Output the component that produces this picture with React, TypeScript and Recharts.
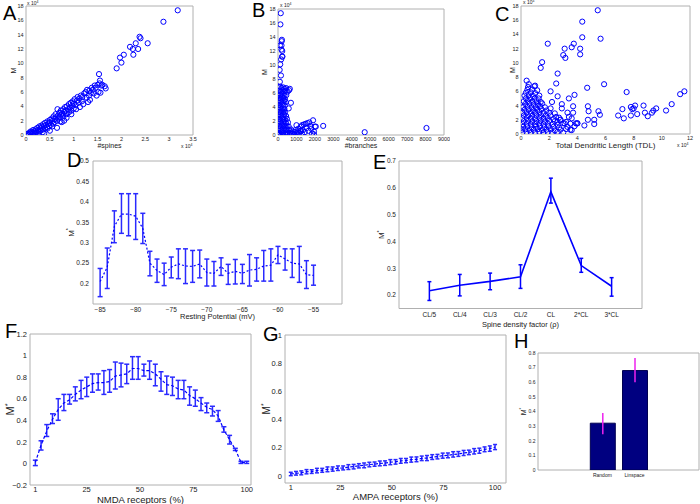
import React from 'react'
import {
  ScatterChart,
  Scatter,
  LineChart,
  Line,
  BarChart,
  Bar,
  XAxis,
  YAxis,
  ErrorBar,
  ReferenceArea,
} from 'recharts'

// A: M vs #spines (both x 10^4)
const ptsA: [number, number][] = [
  [0.02, 0.05], [0.04, 0.2], [0.06, 0.1], [0.08, 0.35], [0.1, 0.2], [0.1, 0.5], [0.12, 0.4], [0.14, 0.25],
  [0.15, 0.7], [0.17, 0.5], [0.18, 0.3], [0.2, 0.8], [0.2, 0.55], [0.22, 0.4], [0.24, 1.0], [0.25, 0.7],
  [0.27, 0.5], [0.28, 1.2], [0.3, 0.9], [0.3, 0.6], [0.32, 1.3], [0.33, 1.05], [0.35, 0.75], [0.36, 1.5],
  [0.38, 1.2], [0.4, 0.9], [0.4, 1.7], [0.42, 1.4], [0.44, 1.1], [0.45, 1.9], [0.47, 1.6], [0.48, 1.25],
  [0.5, 2.1], [0.5, 1.75], [0.52, 1.4], [0.54, 2.3], [0.55, 1.95], [0.57, 1.6], [0.58, 2.6], [0.6, 2.2],
  [0.6, 1.8], [0.62, 2.9], [0.63, 2.45], [0.65, 2.0], [0.66, 3.6], [0.67, 2.7], [0.68, 2.3], [0.7, 3.1],
  [0.71, 2.55], [0.73, 3.4], [0.74, 2.85], [0.75, 1.8], [0.76, 3.0], [0.78, 3.6], [0.79, 2.7], [0.8, 3.2],
  [0.82, 3.9], [0.83, 3.4], [0.85, 2.9], [0.86, 4.0], [0.88, 3.6], [0.9, 3.2], [0.9, 4.3], [0.92, 3.8],
  [0.94, 4.5], [0.95, 3.4], [0.97, 4.1], [0.98, 4.7], [1.0, 3.7], [1.0, 4.4], [1.02, 5.0], [1.04, 4.2],
  [1.05, 3.6], [1.07, 4.8], [1.08, 5.3], [1.1, 4.5], [1.12, 5.1], [1.13, 3.9], [1.15, 5.5], [1.17, 4.7],
  [1.18, 5.3], [1.2, 4.3], [1.22, 5.8], [0.65, 1.0], [0.8, 2.0], [0.72, 1.9], [0.55, 1.2], [0.45, 0.9],
  [0.35, 0.4], [0.25, 0.2], [0.85, 2.4], [0.95, 2.9], [0.38, 0.2], [0.5, 0.6],
  [1.25, 6.0], [1.28, 6.3], [1.3, 4.6], [1.32, 5.5], [1.33, 6.2], [1.36, 5.9], [1.38, 6.6], [1.4, 6.3],
  [1.42, 5.8], [1.44, 6.9], [1.46, 6.6], [1.48, 5.5], [1.5, 7.0], [1.52, 6.0], [1.53, 8.5], [1.54, 7.2],
  [1.55, 7.6], [1.56, 5.9], [1.58, 6.9], [1.6, 7.0], [1.65, 6.8], [1.67, 6.5], [1.27, 5.2], [1.34, 4.9],
  [1.9, 9.3], [1.97, 10.8], [2.0, 10.1], [2.05, 11.2], [2.18, 12.3], [2.24, 12.0], [2.25, 11.2], [2.3, 12.8],
  [2.35, 12.0], [2.38, 13.7], [2.4, 13.5], [2.55, 12.8], [2.88, 15.8], [3.18, 17.4],
]

// B: M vs #branches
const ptsB: [number, number][] = [
  [150, 17.4], [130, 15.8], [210, 13.6], [200, 13.4], [190, 12.8], [110, 12.8], [190, 12.2], [230, 12.0],
  [240, 11.2], [220, 11.2], [170, 10.8], [120, 10.1], [90, 9.3], [160, 8.5], [100, 7.6],
  [40, 6.8], [120, 6.9], [200, 6.7], [280, 6.8], [360, 6.6], [440, 6.7], [640, 6.6], [600, 6.4],
  [80, 6.3], [160, 6.2], [240, 6.4], [320, 6.2], [400, 6.3], [520, 6.2],
  [30, 5.8], [110, 5.7], [190, 5.9], [270, 5.8], [350, 5.6], [450, 5.7],
  [60, 5.3], [140, 5.2], [220, 5.4], [300, 5.3], [380, 5.1],
  [20, 4.8], [100, 4.9], [180, 4.7], [260, 4.8], [340, 4.9], [420, 4.7], [700, 4.6],
  [50, 4.3], [130, 4.2], [210, 4.4], [290, 4.3], [370, 4.2],
  [30, 3.8], [110, 3.9], [190, 3.7], [270, 3.8], [350, 3.7], [580, 3.8],
  [60, 3.3], [140, 3.2], [220, 3.4], [300, 3.3], [380, 3.2],
  [20, 2.8], [100, 2.9], [180, 2.7], [260, 2.8], [340, 2.9], [440, 2.7],
  [50, 2.3], [130, 2.2], [210, 2.4], [290, 2.3], [370, 2.2], [480, 2.3],
  [30, 1.8], [110, 1.9], [190, 1.7], [270, 1.8], [350, 1.9], [430, 1.7], [540, 1.8],
  [60, 1.3], [140, 1.2], [220, 1.4], [300, 1.3], [380, 1.2], [460, 1.3], [580, 1.2],
  [20, 0.8], [100, 0.9], [180, 0.7], [260, 0.8], [340, 0.9], [420, 0.7], [500, 0.8], [620, 0.7],
  [50, 0.3], [130, 0.2], [210, 0.4], [290, 0.3], [370, 0.2], [450, 0.35], [530, 0.25], [650, 0.3],
  [20, 0.05], [100, 0.1], [200, 0.05], [300, 0.08], [400, 0.05], [500, 0.1],
  [700, 0.8], [750, 0.2], [800, 0.5], [850, 0.1], [900, 0.4], [950, 0.7], [1000, 1.4], [1000, 0.2],
  [1050, 0.5], [1100, 0.9], [1150, 0.3], [1200, 0.6], [1250, 1.2], [1300, 1.4], [1300, 0.2], [1350, 0.7],
  [1400, 1.5], [1450, 0.4], [1500, 1.6], [1550, 1.0], [1600, 1.7], [1650, 0.6], [1700, 1.8], [1750, 1.3],
  [1800, 0.9], [1850, 0.2], [1900, 2.1], [1950, 0.5], [2000, 1.2], [2050, 1.2], [1950, 0.1], [2450, 1.3],
  [4700, 0.4], [8050, 1.0], [1100, 0.1], [900, 0.05], [1250, 0.6],
]

// C: M vs total dendritic length (x 10^4)
const ptsC: [number, number][] = [
  [0.1, 0.2], [0.4, 0.25], [0.7, 0.15], [1.0, 0.2], [1.3, 0.3], [1.6, 0.15], [1.9, 0.25], [2.2, 0.2], [2.6, 0.3], [3.0, 0.2],
  [0.05, 0.6], [0.3, 0.65], [0.6, 0.55], [0.9, 0.6], [1.2, 0.7], [1.5, 0.55], [1.8, 0.6], [2.1, 0.65], [2.4, 0.5], [2.8, 0.6], [3.2, 0.7], [3.6, 0.55],
  [0.15, 1.0], [0.45, 1.05], [0.75, 0.95], [1.05, 1.0], [1.35, 1.1], [1.65, 0.95], [1.95, 1.05], [2.3, 1.0], [2.7, 0.9], [3.3, 1.0], [3.8, 1.1],
  [0.1, 1.4], [0.4, 1.45], [0.7, 1.35], [1.0, 1.4], [1.3, 1.5], [1.6, 1.35], [1.9, 1.45], [2.25, 1.4], [2.6, 1.3], [3.0, 1.5], [3.5, 1.45], [4.0, 1.5],
  [0.2, 1.8], [0.5, 1.85], [0.8, 1.75], [1.1, 1.8], [1.4, 1.9], [1.7, 1.75], [2.0, 1.85], [2.4, 1.8], [2.8, 2.0], [3.2, 1.7],
  [0.1, 2.2], [0.4, 2.25], [0.7, 2.15], [1.0, 2.2], [1.3, 2.3], [1.6, 2.15], [1.9, 2.25], [2.3, 2.1], [2.7, 2.3],
  [0.2, 2.6], [0.5, 2.65], [0.8, 2.55], [1.1, 2.6], [1.4, 2.7], [1.75, 2.55], [2.1, 2.6], [2.5, 2.4],
  [0.1, 3.0], [0.4, 3.05], [0.7, 2.95], [1.0, 3.0], [1.3, 3.1], [1.6, 2.95], [2.0, 3.0], [2.4, 2.9],
  [0.25, 3.4], [0.55, 3.45], [0.85, 3.35], [1.15, 3.4], [1.45, 3.5], [1.8, 3.3],
  [0.15, 3.8], [0.45, 3.85], [0.75, 3.75], [1.05, 3.8], [1.35, 3.9], [1.7, 3.75], [2.1, 3.6],
  [0.3, 4.2], [0.6, 4.25], [0.9, 4.15], [1.2, 4.2], [1.5, 4.3],
  [0.2, 4.6], [0.5, 4.65], [0.8, 4.55], [1.1, 4.6], [1.4, 4.5],
  [0.35, 5.0], [0.65, 5.05], [0.95, 4.95], [1.25, 5.0],
  [0.25, 5.4], [0.55, 5.45], [0.85, 5.35], [1.3, 5.4],
  [0.35, 5.8], [0.7, 5.85], [1.0, 5.75], [0.45, 6.2], [0.8, 6.25], [1.15, 6.15],
  [0.5, 6.6], [0.95, 6.7], [0.55, 7.0], [0.4, 7.5],
  [5.45, 17.4], [4.35, 15.8], [4.35, 13.6], [5.65, 13.4], [1.9, 12.7], [3.75, 12.7], [3.1, 12.0], [4.2, 12.0],
  [3.6, 12.2], [3.0, 11.1], [4.2, 11.2], [3.15, 10.7], [1.5, 10.1], [1.4, 9.3], [2.6, 8.5], [2.5, 7.1],
  [5.9, 7.0], [4.7, 6.5], [2.1, 6.0], [1.0, 6.8], [3.4, 5.0], [3.8, 5.5], [2.6, 5.3], [7.5, 5.9],
  [11.6, 6.0], [11.3, 5.6], [10.7, 4.2], [8.7, 4.0], [9.6, 3.6], [9.4, 3.3], [10.3, 3.3], [9.0, 2.5],
  [9.3, 3.0], [8.1, 4.0], [7.9, 3.5], [8.0, 3.6], [7.8, 3.8], [7.2, 3.5], [8.8, 3.0], [8.25, 2.8],
  [7.8, 2.6], [6.9, 2.6], [7.3, 2.2], [5.5, 3.2], [5.6, 2.7], [5.2, 2.0], [5.2, 1.4], [4.5, 1.2],
  [4.8, 3.2], [4.75, 3.9], [4.75, 2.0], [3.7, 3.9], [3.3, 3.0], [3.7, 3.0], [3.4, 2.4], [3.1, 1.5],
  [4.0, 1.5], [3.9, 1.5], [2.8, 2.0], [2.2, 4.5], [2.9, 3.6], [3.6, 2.2], [2.6, 1.7], [3.5, 0.6], [2.9, 4.2],
]

// D: resting potential sweep
const restV = [-85, -84, -83, -82, -81, -80, -79, -78, -77, -76, -75, -74, -73, -72, -71, -70,
  -69, -68, -67, -66, -65, -64, -63, -62, -61, -60, -59, -58, -57, -56, -55]
const restMean = [0.205, 0.24, 0.34, 0.37, 0.37, 0.365, 0.335, 0.25, 0.232, 0.222, 0.24, 0.248, 0.243, 0.242, 0.248, 0.227,
  0.225, 0.242, 0.225, 0.23, 0.225, 0.233, 0.235, 0.243, 0.245, 0.27, 0.26, 0.25, 0.248, 0.222, 0.22]
const restLow = [0.168, 0.188, 0.3, 0.323, 0.317, 0.308, 0.298, 0.219, 0.203, 0.195, 0.214, 0.212, 0.2, 0.203, 0.214, 0.194,
  0.194, 0.22, 0.198, 0.199, 0.2, 0.194, 0.206, 0.206, 0.206, 0.249, 0.233, 0.215, 0.203, 0.188, 0.196]
const restHigh = [0.237, 0.287, 0.378, 0.42, 0.42, 0.42, 0.372, 0.279, 0.26, 0.25, 0.265, 0.285, 0.285, 0.281, 0.282, 0.26,
  0.254, 0.263, 0.247, 0.259, 0.247, 0.271, 0.263, 0.281, 0.285, 0.291, 0.285, 0.285, 0.291, 0.256, 0.245]

// E: spine density factor
const densCats = ['CL/5', 'CL/4', 'CL/3', 'CL/2', 'CL', '2*CL', '3*CL']
const densMean = [0.216, 0.237, 0.251, 0.268, 0.585, 0.31, 0.233]
const densLow = [0.18, 0.197, 0.22, 0.225, 0.543, 0.285, 0.196]
const densHigh = [0.25, 0.277, 0.282, 0.313, 0.636, 0.337, 0.265]

// F: NMDA receptors (%)
const nmdaPct = [1, 3.68, 6.35, 9.03, 11.7, 14.38, 17.05, 19.73, 22.41, 25.08, 27.76, 30.43, 33.11, 35.78, 38.46, 41.14,
  43.81, 46.49, 49.16, 51.84, 54.51, 57.19, 59.86, 62.54, 65.22, 67.89, 70.57, 73.24, 75.92, 78.59, 81.27, 83.95,
  86.62, 89.3, 91.97, 94.65, 97.32, 100]
const nmdaMean = [0.01, 0.17, 0.3, 0.41, 0.5, 0.56, 0.59, 0.64, 0.68, 0.71, 0.74, 0.75, 0.75, 0.76, 0.81, 0.82,
  0.83, 0.88, 0.88, 0.86, 0.86, 0.83, 0.78, 0.73, 0.72, 0.69, 0.68, 0.63, 0.6, 0.56, 0.52, 0.5,
  0.44, 0.31, 0.22, 0.13, 0.01, 0.01]
const nmdaLow = [-0.02, 0.124, 0.25, 0.37, 0.4, 0.49, 0.55, 0.58, 0.6, 0.62, 0.66, 0.68, 0.64, 0.66, 0.69, 0.71,
  0.74, 0.78, 0.78, 0.81, 0.78, 0.72, 0.67, 0.64, 0.63, 0.6, 0.6, 0.54, 0.53, 0.49, 0.47, 0.44,
  0.39, 0.29, 0.18, 0.12, 0.0, 0.0]
const nmdaHigh = [0.03, 0.21, 0.36, 0.46, 0.6, 0.64, 0.64, 0.71, 0.77, 0.8, 0.83, 0.83, 0.86, 0.87, 0.94, 0.93,
  0.92, 0.99, 0.99, 0.92, 0.95, 0.92, 0.85, 0.81, 0.8, 0.77, 0.77, 0.71, 0.68, 0.61, 0.56, 0.53,
  0.49, 0.34, 0.26, 0.14, 0.02, 0.02]

// G: AMPA receptors (%)
const ampaPct = [1, 3.54, 6.08, 8.62, 11.15, 13.69, 16.23, 18.77, 21.31, 23.85, 26.38, 28.92, 31.46, 34, 36.54, 39.08,
  41.62, 44.15, 46.69, 49.23, 51.77, 54.31, 56.85, 59.38, 61.92, 64.46, 67, 69.54, 72.08, 74.62, 77.15, 79.69,
  82.23, 84.77, 87.31, 89.85, 92.38, 94.92, 97.46, 100]
const ampaMean = [0.014, 0.019, 0.022, 0.03, 0.031, 0.038, 0.04, 0.047, 0.049, 0.055, 0.057, 0.063, 0.066, 0.072, 0.075, 0.081,
  0.084, 0.089, 0.091, 0.098, 0.1, 0.107, 0.109, 0.116, 0.118, 0.125, 0.127, 0.134, 0.137, 0.144, 0.146, 0.153,
  0.156, 0.163, 0.167, 0.175, 0.179, 0.189, 0.194, 0.205]
const ampaErr = [0.012, 0.013, 0.014, 0.015, 0.013, 0.016, 0.014, 0.017, 0.015, 0.016, 0.014, 0.017, 0.016, 0.015, 0.017, 0.016,
  0.015, 0.017, 0.016, 0.018, 0.016, 0.017, 0.015, 0.018, 0.017, 0.016, 0.018, 0.017, 0.016, 0.018, 0.017, 0.019,
  0.017, 0.018, 0.016, 0.019, 0.018, 0.017, 0.019, 0.018]

// H: Random vs Linspace
const placeCats = ['Random', 'Linspace']
const placeMean = [0.32, 0.68]
const placeLow = [0.245, 0.6]
const placeHigh = [0.39, 0.765]

const FONT = '"Liberation Sans", Arial, Helvetica, sans-serif'
const BLUE = '#0000ff'
const BOX = '#b0b0b0'
const TXT = '#222'
const minus = (v: number) => String(v).replace('-', '\u2212')

type Geo = { l: number; t: number; r: number; b: number; yw: number; xh: number; mr?: number }
const MT = 6

function frame(g: Geo) {
  const mr = g.mr ?? 6
  return {
    pos: { position: 'absolute' as const, left: g.l - g.yw, top: g.t - MT },
    width: g.r - g.l + g.yw + mr,
    height: g.b - g.t + g.xh + MT,
    margin: { top: MT, right: mr, bottom: 0, left: 0 },
  }
}

const mStar = (fs: number, plain?: boolean) =>
  plain ? 'M' : (
    <>
      <tspan>M</tspan>
      <tspan dy={-fs * 0.4} fontSize={fs * 0.65}>*</tspan>
    </>
  )

function yLab(text: React.ReactNode, dx: number, fs: number) {
  return (p: any) => {
    const vb = p.viewBox ?? { x: 0, y: 0, width: 0, height: 0 }
    const cx = vb.x + dx
    const cy = vb.y + vb.height / 2
    return (
      <text x={cx} y={cy} fontSize={fs} fill={TXT} textAnchor="middle" transform={`rotate(-90 ${cx} ${cy})`}>
        {text}
      </text>
    )
  }
}

function xLab(text: string, dy: number, fs: number) {
  return (p: any) => {
    const vb = p.viewBox ?? { x: 0, y: 0, width: 0, height: 0 }
    return (
      <text x={vb.x + vb.width / 2} y={vb.y + dy} fontSize={fs} fill={TXT} textAnchor="middle">
        {text}
      </text>
    )
  }
}

const ring = (p: any) => <circle cx={p.cx} cy={p.cy} r={2.6} fill="none" stroke={BLUE} strokeWidth={1} />

function ScatterPanel(props: {
  g: Geo; pts: [number, number][]; xd: [number, number]; xt: number[]; xlabel: string; xdy: number; xfs: number; ydx: number
}) {
  const { g, pts, xd, xt } = props
  const f = frame(g)
  const data = pts.map(([x, y]) => ({ x, y }))
  const yt = [0, 2, 4, 6, 8, 10, 12, 14, 16, 18]
  return (
    <div style={f.pos}>
      <ScatterChart width={f.width} height={f.height} margin={f.margin}>
        <XAxis type="number" dataKey="x" domain={xd} ticks={xt} allowDataOverflow height={g.xh}
          tickLine={false} axisLine={false} tickSize={0} tickMargin={2.5} tick={{ fontSize: 5.5, fill: TXT }}
          label={xLab(props.xlabel, props.xdy, props.xfs)} />
        <YAxis type="number" dataKey="y" domain={[0, 18]} ticks={yt} allowDataOverflow width={g.yw}
          tickLine={false} axisLine={false} tickSize={0} tickMargin={2.5} tick={{ fontSize: 5.5, fill: TXT }}
          label={yLab(mStar(7, true), props.ydx, 7)} />
        <ReferenceArea x1={xd[0]} x2={xd[1]} y1={0} y2={18} fill="none" stroke={BOX} ifOverflow="visible" />
        <Scatter data={data} shape={ring} isAnimationActive={false} />
      </ScatterChart>
    </div>
  )
}

function Letter({ ch, x, y }: { ch: string; x: number; y: number }) {
  return <div style={{ position: 'absolute', left: x, top: y, fontSize: 20, lineHeight: 1, color: '#000' }}>{ch}</div>
}

function Exp({ x, y }: { x: number; y: number }) {
  return (
    <div style={{ position: 'absolute', left: x, top: y, fontSize: 5, lineHeight: 1, color: TXT, whiteSpace: 'nowrap' }}>
      x 10<span style={{ fontSize: 3.5, verticalAlign: 2 }}>4</span>
    </div>
  )
}

export default function App() {
  const gD: Geo = { l: 93, t: 161, r: 342, b: 304, yw: 32, xh: 20 }
  const gE: Geo = { l: 399, t: 161, r: 642, b: 308.5, yw: 26, xh: 24 }
  const gF: Geo = { l: 30, t: 334, r: 251, b: 485, yw: 30, xh: 19 }
  const gG: Geo = { l: 285, t: 335, r: 506, b: 483, yw: 30, xh: 21 }
  const gH: Geo = { l: 538, t: 353, r: 699, b: 470, yw: 24, xh: 14, mr: 1 }
  const fD = frame(gD)
  const fE = frame(gE)
  const fF = frame(gF)
  const fG = frame(gG)
  const fH = frame(gH)

  const restData = restV.map((x, i) => ({ x, m: restMean[i], e: [restMean[i] - restLow[i], restHigh[i] - restMean[i]] }))
  const densData = densCats.map((_, i) => ({ x: i + 1, m: densMean[i], e: [densMean[i] - densLow[i], densHigh[i] - densMean[i]] }))
  const nmdaData = nmdaPct.map((x, i) => ({ x, m: nmdaMean[i], e: [nmdaMean[i] - nmdaLow[i], nmdaHigh[i] - nmdaMean[i]] }))
  const ampaData = ampaPct.map((x, i) => ({ x, m: ampaMean[i], e: ampaErr[i] }))
  const placeData = placeCats.map((_, i) => ({ x: i + 1, v: placeMean[i], e: [placeMean[i] - placeLow[i], placeHigh[i] - placeMean[i]] }))

  const axisCommon = { tickLine: false, axisLine: false, tickSize: 0, allowDataOverflow: true }

  return (
    <div style={{ position: 'absolute', left: 0, top: 0, width: 700, height: 504, overflow: 'hidden', background: '#fff', fontFamily: FONT }}>
      <ScatterPanel g={{ l: 26, t: 6, r: 193, b: 135, yw: 22, xh: 18 }} pts={ptsA} xd={[0, 3.5]}
        xt={[0, 0.5, 1, 1.5, 2, 2.5, 3, 3.5]} xlabel="#spines" xdy={12.5} xfs={7} ydx={11.5} />
      <ScatterPanel g={{ l: 278, t: 9, r: 444, b: 135, yw: 22, xh: 18 }} pts={ptsB} xd={[0, 9000]}
        xt={[0, 1000, 2000, 3000, 4000, 5000, 6000, 7000, 8000, 9000]} xlabel="#branches" xdy={13} xfs={7} ydx={10.5} />
      <ScatterPanel g={{ l: 521, t: 6, r: 690, b: 134, yw: 22, xh: 18 }} pts={ptsC} xd={[0, 12]}
        xt={[0, 2, 4, 6, 8, 10, 12]} xlabel="Total Dendritic Length (TDL)" xdy={13.8} xfs={8} ydx={15.5} />

      <div style={fD.pos}>
        <LineChart width={fD.width} height={fD.height} margin={fD.margin} data={restData}>
          <XAxis type="number" dataKey="x" domain={[-86, -51]} ticks={[-85, -80, -75, -70, -65, -60, -55]}
            height={gD.xh} tickMargin={3} tickFormatter={minus} tick={{ fontSize: 6.5, fill: TXT }} {...axisCommon}
            label={xLab('Resting Potential (mV)', 14.5, 7.5)} />
          <YAxis type="number" domain={[0.15, 0.5]} ticks={[0.2, 0.25, 0.3, 0.35, 0.4, 0.45, 0.5]} width={gD.yw}
            tickMargin={4} tick={{ fontSize: 6.5, fill: TXT }} {...axisCommon} label={yLab(mStar(8), 12.6, 8)} />
          <ReferenceArea x1={-86} x2={-51} y1={0.15} y2={0.5} fill="none" stroke={BOX} ifOverflow="visible" />
          <Line dataKey="m" stroke={BLUE} strokeWidth={1.2} strokeDasharray="2 2" dot={false} isAnimationActive={false}>
            <ErrorBar dataKey="e" width={2.5} stroke="#2a2aff" strokeWidth={1.5} />
          </Line>
        </LineChart>
      </div>

      <div style={fE.pos}>
        <LineChart width={fE.width} height={fE.height} margin={fE.margin} data={densData}>
          <XAxis type="number" dataKey="x" domain={[0, 8]} ticks={[1, 2, 3, 4, 5, 6, 7]} height={gE.xh}
            tickMargin={3.5} tickFormatter={(v: number) => densCats[v - 1] ?? ''} tick={{ fontSize: 6.5, fill: TXT }}
            {...axisCommon} label={xLab('Spine density factor (\u03c1)', 18.5, 7.5)} />
          <YAxis type="number" domain={[0.15, 0.7]} ticks={[0.2, 0.3, 0.4, 0.5, 0.6, 0.7]} width={gE.yw}
            tickMargin={3} tick={{ fontSize: 6.5, fill: TXT }} {...axisCommon} label={yLab(mStar(8), 11.3, 8)} />
          <ReferenceArea x1={0} x2={8} y1={0.15} y2={0.7} fill="none" stroke={BOX} ifOverflow="visible" />
          <Line dataKey="m" stroke={BLUE} strokeWidth={1.6} dot={false} isAnimationActive={false}>
            <ErrorBar dataKey="e" width={2} stroke={BLUE} strokeWidth={1.5} />
          </Line>
        </LineChart>
      </div>

      <div style={fF.pos}>
        <LineChart width={fF.width} height={fF.height} margin={fF.margin} data={nmdaData}>
          <XAxis type="number" dataKey="x" domain={[-1.5, 102]} ticks={[1, 25, 50, 75, 100]} height={gF.xh}
            tickMargin={2} tick={{ fontSize: 7.5, fill: TXT }} {...axisCommon}
            label={xLab('NMDA receptors (%)', 17.5, 9.5)} />
          <YAxis type="number" domain={[-0.2, 1.2]} ticks={[-0.2, 0, 0.2, 0.4, 0.6, 0.8, 1, 1.2]} width={gF.yw}
            tickMargin={3} tickFormatter={minus} tick={{ fontSize: 7.5, fill: TXT }} {...axisCommon}
            label={yLab(mStar(11), 14, 11)} />
          <ReferenceArea x1={-1.5} x2={102} y1={-0.2} y2={1.2} fill="none" stroke={BOX} ifOverflow="visible" />
          <Line dataKey="m" stroke={BLUE} strokeWidth={1.2} strokeDasharray="3 2" dot={false} isAnimationActive={false}>
            <ErrorBar dataKey="e" width={2.5} stroke="#2a2aff" strokeWidth={1.5} />
          </Line>
        </LineChart>
      </div>

      <div style={fG.pos}>
        <LineChart width={fG.width} height={fG.height} margin={fG.margin} data={ampaData}>
          <XAxis type="number" dataKey="x" domain={[-1.8, 105.3]} ticks={[1, 25, 50, 75, 100]} height={gG.xh}
            tickMargin={2} tick={{ fontSize: 7.5, fill: TXT }} {...axisCommon}
            label={xLab('AMPA receptors (%)', 17, 9.5)} />
          <YAxis type="number" domain={[-0.05, 1]} ticks={[0, 0.2, 0.4, 0.6, 0.8, 1]} width={gG.yw}
            tickMargin={3} tick={{ fontSize: 7.5, fill: TXT }} {...axisCommon} label={yLab(mStar(10), 15, 10)} />
          <ReferenceArea x1={-1.8} x2={105.3} y1={-0.05} y2={1} fill="none" stroke={BOX} ifOverflow="visible" />
          <Line dataKey="m" stroke={BLUE} strokeWidth={1.2} strokeDasharray="3 2" dot={false} isAnimationActive={false}>
            <ErrorBar dataKey="e" width={2} stroke="#2a2aff" strokeWidth={1.5} />
          </Line>
        </LineChart>
      </div>

      <div style={fH.pos}>
        <BarChart width={fH.width} height={fH.height} margin={fH.margin} data={placeData}>
          <XAxis type="number" dataKey="x" domain={[-1, 4]} ticks={[1, 2]} height={gH.xh} tickMargin={3}
            tickFormatter={(v: number) => placeCats[v - 1] ?? ''} tick={{ fontSize: 5, fill: TXT }} {...axisCommon} />
          <YAxis type="number" domain={[0, 0.8]} ticks={[0, 0.1, 0.2, 0.3, 0.4, 0.5, 0.6, 0.7, 0.8]} width={gH.yw}
            tickMargin={2.5} tick={{ fontSize: 5, fill: TXT }} {...axisCommon} label={yLab(mStar(7), 11.5, 7)} />
          <ReferenceArea x1={-1} x2={4} y1={0} y2={0.8} fill="none" stroke={BOX} ifOverflow="visible" />
          <Bar dataKey="v" fill="#000080" stroke="#000050" barSize={25} isAnimationActive={false}>
            <ErrorBar dataKey="e" width={0} stroke="#ee22ee" strokeWidth={1.5} />
          </Bar>
        </BarChart>
      </div>

      <Exp x={27} y={1} />
      <Exp x={181} y={144} />
      <Exp x={280} y={3} />
      <Exp x={523} y={0} />
      <Exp x={677} y={143} />

      <Letter ch="A" x={3} y={3.4} />
      <Letter ch="B" x={252} y={0.4} />
      <Letter ch="C" x={495} y={4.4} />
      <Letter ch="D" x={67} y={150.4} />
      <Letter ch="E" x={373} y={152.4} />
      <Letter ch="F" x={5} y={321} />
      <Letter ch="G" x={263} y={324.4} />
      <Letter ch="H" x={514} y={331} />
    </div>
  )
}
